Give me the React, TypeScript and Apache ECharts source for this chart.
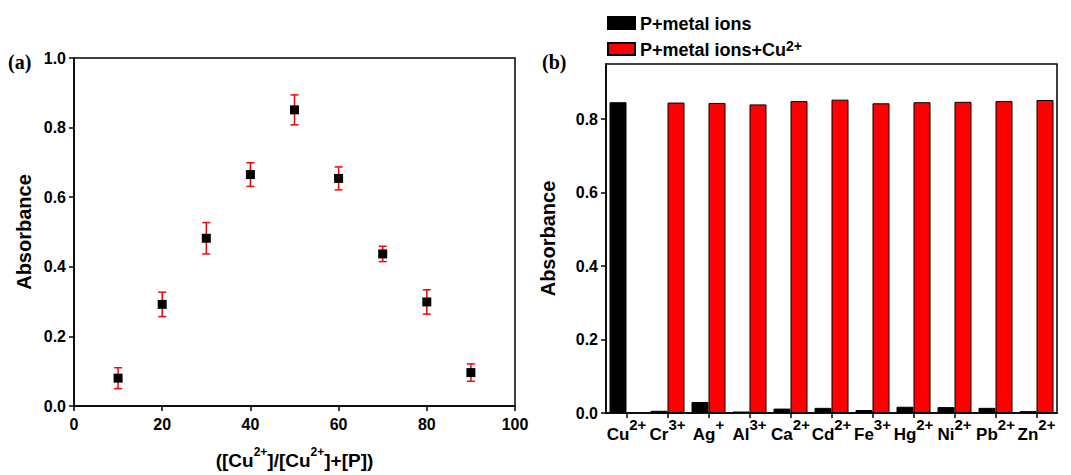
import React, { useEffect, useRef } from 'react';
import * as echarts from 'echarts';

// Panel (a): Job's plot
const ratioX = [10, 20, 30, 40, 50, 60, 70, 80, 90];
const absA = [0.080, 0.292, 0.482, 0.665, 0.851, 0.654, 0.437, 0.299, 0.096];
const errA = [0.030, 0.035, 0.045, 0.034, 0.043, 0.033, 0.022, 0.035, 0.025];
const xTicksA = [0, 20, 40, 60, 80, 100];
const yTicksA = [0, 0.2, 0.4, 0.6, 0.8, 1.0];

// Panel (b): competition
const ions = ['Cu2+', 'Cr3+', 'Ag+', 'Al3+', 'Ca2+', 'Cd2+', 'Fe3+', 'Hg2+', 'Ni2+', 'Pb2+', 'Zn2+'];
const metalOnly = [0.846, 0.006, 0.030, 0.004, 0.012, 0.014, 0.008, 0.017, 0.016, 0.014, 0.005];
const metalPlusCu = [null, 0.845, 0.844, 0.840, 0.849, 0.853, 0.843, 0.846, 0.847, 0.849, 0.852];
const yTicksB = [0, 0.2, 0.4, 0.6, 0.8];
const seriesNames = ['P+metal ions', 'P+metal ions+Cu2+'];

const SANS = '"Liberation Sans", Arial, sans-serif';
const SERIF = '"Liberation Serif", "Times New Roman", serif';

const supRich = {
  n: { fontFamily: SANS, fontWeight: 'bold', fontSize: 17, color: '#000', verticalAlign: 'bottom', lineHeight: 26 },
  s: { fontFamily: SANS, fontWeight: 'bold', fontSize: 15, color: '#000', verticalAlign: 'top', lineHeight: 14 },
};

function withSup(text: string) {
  const m = text.match(/^(.*?)(\d?\+)$/);
  if (!m) return `{n|${text}}`;
  return `{n|${m[1]}}{s|${m[2]}}`;
}

export default function App() {
  const ref = useRef<HTMLDivElement>(null);
  useEffect(() => {
    if (!ref.current) return;
    const chart = echarts.init(ref.current, undefined, { renderer: 'svg' });
    const axisLine = { show: true, lineStyle: { color: '#000', width: 1.5 } };
    const axisTick = { show: true, inside: false, length: 5, lineStyle: { color: '#000', width: 1.5 } };
    const labelStyle = { fontFamily: SANS, fontWeight: 'bold' as const, fontSize: 16, color: '#000' };
    const option: any = {
      animation: false,
      backgroundColor: '#fff',
      grid: [
        { left: 74, top: 58, width: 441, height: 351, show: true, borderColor: '#000', borderWidth: 1.5, backgroundColor: 'transparent' },
        { left: 606, top: 64, width: 451, height: 349, show: true, borderColor: '#000', borderWidth: 1.5, backgroundColor: 'transparent' },
      ],
      legend: {
        orient: 'vertical',
        left: 607,
        top: 15,
        padding: 0,
        itemWidth: 27,
        itemHeight: 12,
        itemGap: 6,
        icon: 'rect',
        data: seriesNames,
        formatter: (name: string) => (name === seriesNames[1] ? '{n|P+metal ions+Cu}{s|2+}' : '{n|P+metal ions}'),
        textStyle: {
          rich: {
            n: { fontFamily: SANS, fontWeight: 'bold', fontSize: 18, color: '#000', verticalAlign: 'bottom', lineHeight: 20 },
            s: { fontFamily: SANS, fontWeight: 'bold', fontSize: 14, color: '#000', verticalAlign: 'top', lineHeight: 12 },
          },
        },
      },
      xAxis: [
        {
          type: 'value', gridIndex: 0, min: 0, max: 100, interval: 20,
          axisLine, axisTick, splitLine: { show: false },
          axisLabel: { ...labelStyle, margin: 10, customValues: xTicksA },
          name: '{n|([Cu}{s|2+}{n|]/[Cu}{s|2+}{n|]+[P])}',
          nameLocation: 'middle', nameGap: 40,
          nameTextStyle: {
            rich: {
              n: { fontFamily: SANS, fontWeight: 'bold', fontSize: 19, color: '#000', verticalAlign: 'bottom', lineHeight: 24 },
              s: { fontFamily: SANS, fontWeight: 'bold', fontSize: 12, color: '#000', verticalAlign: 'top', lineHeight: 12 },
            },
          },
        },
        {
          type: 'category', gridIndex: 1, data: ions, boundaryGap: true,
          axisLine, axisTick: { ...axisTick, alignWithLabel: true }, splitLine: { show: false },
          axisLabel: { interval: 0, margin: 4, formatter: (v: string) => withSup(v), rich: supRich },
        },
      ],
      yAxis: [
        {
          type: 'value', gridIndex: 0, min: 0, max: 1.0, interval: 0.2,
          axisLine, axisTick, splitLine: { show: false },
          axisLabel: { ...labelStyle, margin: 8, formatter: (v: number) => v.toFixed(1), customValues: yTicksA },
          name: 'Absorbance', nameLocation: 'middle', nameGap: 40,
          nameTextStyle: { fontFamily: SANS, fontWeight: 'bold', fontSize: 20, color: '#000' },
        },
        {
          type: 'value', gridIndex: 1, min: 0, max: 0.95,
          axisLine, axisTick: { ...axisTick, customValues: yTicksB }, splitLine: { show: false },
          axisLabel: { ...labelStyle, margin: 8, formatter: (v: number) => v.toFixed(1), customValues: yTicksB },
          name: 'Absorbance', nameLocation: 'middle', nameGap: 48,
          nameTextStyle: { fontFamily: SANS, fontWeight: 'bold', fontSize: 20, color: '#000' },
        },
      ],
      graphic: [
        { type: 'text', left: 8, top: 52, style: { text: '(a)', font: `bold 20px ${SERIF}`, fill: '#000' } },
        { type: 'text', left: 542, top: 52, style: { text: '(b)', font: `bold 20px ${SERIF}`, fill: '#000' } },
      ],
      series: [
        {
          type: 'custom',
          xAxisIndex: 0,
          yAxisIndex: 0,
          z: 1,
          data: ratioX.map((x, i) => [x, absA[i] - errA[i], absA[i] + errA[i]]),
          renderItem: (_p: any, api: any) => {
            const lo = api.coord([api.value(0), api.value(1)]);
            const hi = api.coord([api.value(0), api.value(2)]);
            const hw = 4;
            const style = { stroke: '#ff0000', lineWidth: 1.5 };
            return {
              type: 'group',
              children: [
                { type: 'line', shape: { x1: lo[0], y1: lo[1], x2: hi[0], y2: hi[1] }, style },
                { type: 'line', shape: { x1: lo[0] - hw, y1: lo[1], x2: lo[0] + hw, y2: lo[1] }, style },
                { type: 'line', shape: { x1: hi[0] - hw, y1: hi[1], x2: hi[0] + hw, y2: hi[1] }, style },
              ],
            };
          },
        },
        {
          type: 'scatter',
          xAxisIndex: 0,
          yAxisIndex: 0,
          z: 3,
          symbol: 'rect',
          symbolSize: 9,
          itemStyle: { color: '#000', opacity: 1 },
          data: ratioX.map((x, i) => [x, absA[i]]),
        },
        {
          type: 'bar',
          name: seriesNames[0],
          xAxisIndex: 1,
          yAxisIndex: 1,
          barWidth: 17,
          barGap: '0%',
          itemStyle: { color: '#000', borderColor: '#000', borderWidth: 1 },
          data: metalOnly,
        },
        {
          type: 'bar',
          name: seriesNames[1],
          xAxisIndex: 1,
          yAxisIndex: 1,
          barWidth: 17,
          barGap: '0%',
          itemStyle: { color: '#ff0000', borderColor: '#000', borderWidth: 1 },
          data: metalPlusCu,
        },
      ],
    };
    chart.setOption(option);
    return () => chart.dispose();
  }, []);
  return <div ref={ref} style={{ position: 'fixed', left: 0, top: 0, width: 1071, height: 475, background: '#fff' }} />;
}
